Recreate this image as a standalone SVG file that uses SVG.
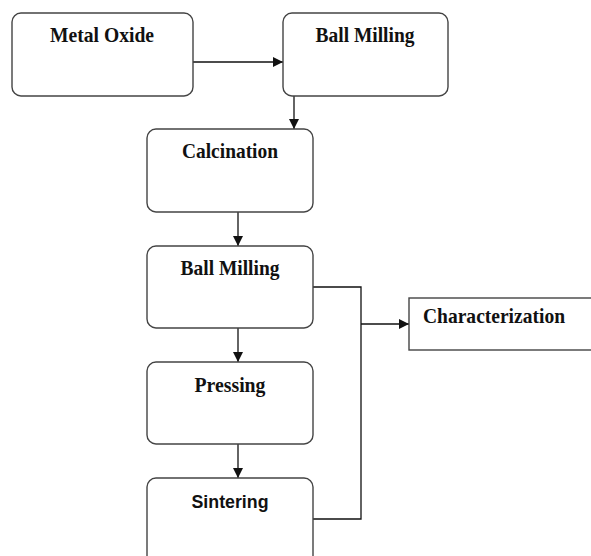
<svg xmlns="http://www.w3.org/2000/svg" width="591" height="556" viewBox="0 0 591 556">
<style>
.box{fill:#ffffff;stroke:#444444;stroke-width:1.4}
.t{font-family:"Liberation Serif","Times New Roman",serif;font-weight:bold;font-size:21.5px;fill:#111111;text-anchor:middle}
.s{font-family:"Liberation Sans",Arial,sans-serif;font-weight:bold;font-size:17.5px;fill:#111111;text-anchor:middle}
.c{fill:none;stroke:#111111;stroke-width:1.3}
</style>
<defs>
<marker id="ah" viewBox="0 0 10 10" refX="10" refY="5" markerWidth="10" markerHeight="10" markerUnits="userSpaceOnUse" orient="auto">
<path d="M0,0 L10,5 L0,10 z" fill="#111111"/>
</marker>
</defs>
<rect x="0" y="0" width="591" height="556" fill="#ffffff"/>
<g id="connectors">
<path class="c" d="M193,62 H283" marker-end="url(#ah)"/>
<path class="c" d="M294,96 V129" marker-end="url(#ah)"/>
<path class="c" d="M238,212 V246" marker-end="url(#ah)"/>
<path class="c" d="M238,328 V362" marker-end="url(#ah)"/>
<path class="c" d="M238,444 V478" marker-end="url(#ah)"/>
<path class="c" d="M313,287 H361 V519 H313"/>
<path class="c" d="M361,324 H409" marker-end="url(#ah)"/>
</g>
<g id="metal-oxide">
<rect class="box" x="12" y="13" width="181" height="83" rx="9"/>
<text class="t" x="102" y="42" textLength="104" lengthAdjust="spacingAndGlyphs">Metal Oxide</text>
</g>
<g id="ball-milling-1">
<rect class="box" x="283" y="13" width="165" height="83" rx="9"/>
<text class="t" x="365" y="42" textLength="99" lengthAdjust="spacingAndGlyphs">Ball Milling</text>
</g>
<g id="calcination">
<rect class="box" x="147" y="129" width="166" height="83" rx="9"/>
<text class="t" x="230" y="158" textLength="96" lengthAdjust="spacingAndGlyphs">Calcination</text>
</g>
<g id="ball-milling-2">
<rect class="box" x="147" y="246" width="166" height="82" rx="9"/>
<text class="t" x="230" y="275" textLength="99" lengthAdjust="spacingAndGlyphs">Ball Milling</text>
</g>
<g id="pressing">
<rect class="box" x="147" y="362" width="166" height="82" rx="9"/>
<text class="t" x="230" y="392" textLength="71" lengthAdjust="spacingAndGlyphs">Pressing</text>
</g>
<g id="sintering">
<rect class="box" x="147" y="478" width="166" height="90" rx="9"/>
<text class="s" x="230" y="508" textLength="77" lengthAdjust="spacingAndGlyphs">Sintering</text>
</g>
<g id="characterization">
<rect class="box" x="409" y="298" width="200" height="52"/>
<text class="t" x="494" y="323" textLength="142" lengthAdjust="spacingAndGlyphs">Characterization</text>
</g>
</svg>
